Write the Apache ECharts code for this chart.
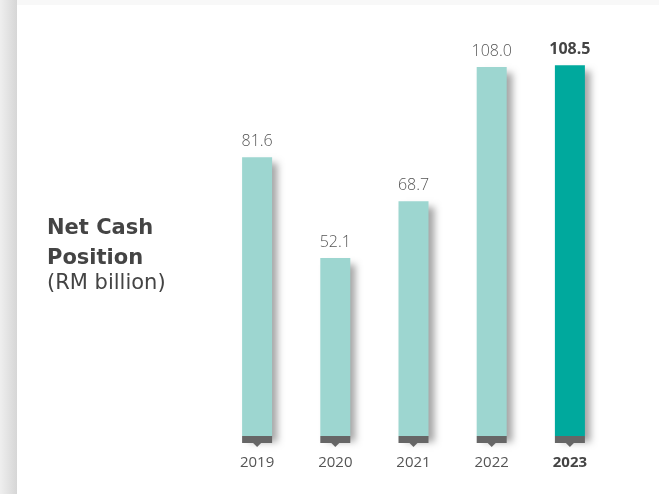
<!DOCTYPE html>
<html>
<head>
<meta charset="utf-8">
<script src="https://cdn.jsdelivr.net/npm/echarts@6/dist/echarts.min.js"></script>
<style>html,body{margin:0;padding:0;background:#f8f8f8}#c{width:659px;height:494px}</style>
</head>
<body>
<div id="c"></div>
<script>
var categories = ['2019', '2020', '2021', '2022', '2023'];
var netCash = [81.6, 52.1, 68.7, 108.0, 108.5];
var highlightIndex = 4;
var titleLines = ['Net Cash', 'Position'];
var unitText = '(RM billion)';

var chart = echarts.init(document.getElementById('c'));
var FONT = '"Open Sans", sans-serif';
var TFONT = '"DejaVu Sans", sans-serif';

var barData = netCash.map(function (v, i) {
  var hi = i === highlightIndex;
  return {
    value: v,
    itemStyle: { color: hi ? '#00a99d' : '#9dd6d0' },
    label: { fontWeight: hi ? 'bold' : 300, color: hi ? '#444' : '#555' }
  };
});

chart.setOption({
  animation: false,
  backgroundColor: '#f8f8f8',
  graphic: [
    { type: 'rect', z: -10, shape: { x: 0, y: 0, width: 17, height: 494 },
      style: { fill: new echarts.graphic.LinearGradient(0, 0, 1, 0, [
        { offset: 0, color: '#efefef' }, { offset: 1, color: '#d6d6d6' }]) } },
    { type: 'rect', z: -9, shape: { x: 17, y: 5, width: 642, height: 489 },
      style: { fill: '#ffffff' } },
    { type: 'text', left: 47, top: 214, style: {
        text: titleLines.join('\n'), font: 'bold 21px ' + TFONT, fill: '#444', lineHeight: 30 } },
    { type: 'text', left: 47, top: 273, style: {
        text: unitText, font: '21px ' + TFONT, fill: '#444' } }
  ],
  grid: { left: 218, right: 50, top: 26, bottom: 58 },
  xAxis: {
    type: 'category',
    data: categories,
    axisLine: { show: false },
    axisTick: { show: false },
    axisLabel: {
      interval: 0, margin: 19, fontSize: 15, fontFamily: FONT, color: '#555',
      formatter: function (v, i) { return i === highlightIndex ? '{b|' + v + '}' : v; },
      rich: { b: { fontWeight: 'bold', fontSize: 15, fontFamily: FONT, color: '#444' } }
    }
  },
  yAxis: { type: 'value', min: 0, max: 120, show: false, splitLine: { show: false } },
  series: [
    {
      type: 'bar',
      data: barData,
      barWidth: 30,
      itemStyle: { shadowColor: 'rgba(0,0,0,0.35)', shadowBlur: 7, shadowOffsetX: 6, shadowOffsetY: 6 },
      label: {
        show: true, position: 'top', distance: 8, fontSize: 16, fontFamily: FONT,
        formatter: function (p) { return p.value.toFixed(1); }
      }
    },
    {
      type: 'custom',
      data: categories.map(function (c, i) { return [i, 0]; }),
      z: 5,
      renderItem: function (params, api) {
        var p = api.coord([api.value(0), 0]);
        var w = 30;
        return {
          type: 'group',
          children: [
            { type: 'rect', shape: { x: p[0] - w / 2, y: p[1], width: w, height: 7 },
              style: { fill: '#666666' } },
            { type: 'polygon', shape: { points: [[p[0] - 4, p[1] + 7], [p[0] + 4, p[1] + 7], [p[0], p[1] + 11]] },
              style: { fill: '#666666' } }
          ]
        };
      }
    }
  ]
});
</script>
</body>
</html>
